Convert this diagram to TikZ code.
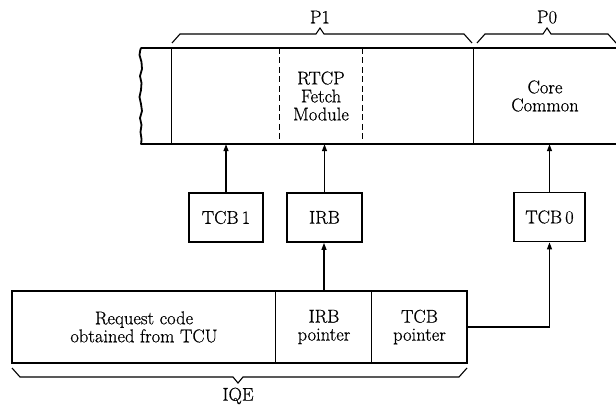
\documentclass[tikz,border=0pt]{standalone}
\usepackage{fontspec}
\setmainfont{Latin Modern Roman}[FakeBold=0.6]
\usetikzlibrary{arrows.meta}
\begin{document}
\begin{tikzpicture}[x=1pt,y=-1pt,
  every node/.style={font=\fontsize{18.5}{18}\selectfont, align=center, inner sep=0pt},
  cell/.style={minimum height=72pt},
  slot/.style={minimum height=96pt},
  block/.style={draw, line width=1.8pt, minimum height=49pt},
  frame/.style={line width=1.8pt},
  divider/.style={line width=0.9pt},
  arr/.style={line width=1.2pt, -{Triangle[length=7pt,width=5pt]}},
  bracket/.style={line width=1.1pt, line join=miter}]
\useasboundingbox (0,0) rectangle (616,406);

% memory strip: partitions P1 and P0
\node[slot, minimum width=108pt] (cellA) at (226,96) {};
\node[slot, minimum width=82pt] (fetch) at (321,96) {RTCP\\Fetch\\Module};
\node[slot, minimum width=112pt] (cellC) at (418,96) {};
\node[slot, minimum width=142pt] (core) at (545,96) {Core\\Common};
\coordinate (stripL) at (141,48);
\coordinate (stripR) at (616,48);
\draw[frame] (stripL) -- (stripR);
\draw[frame] (stripL |- cellA.south) -- (stripR |- cellA.south);
\draw[frame, line cap=round] plot[smooth, tension=0.8] coordinates {(141,48) (139.5,55) (141.5,62) (142,69) (140,76) (141.5,83) (141,90) (139.5,97) (141,104) (142,111) (140,118) (141.5,125) (140.5,132) (141.5,139) (141,144)};
\draw[divider] (cellA.north west) -- (cellA.south west);
\draw[divider, dash pattern=on 6pt off 3.5pt] (fetch.north west) -- (fetch.south west);
\draw[divider, dash pattern=on 6pt off 3.5pt] (fetch.north east) -- (fetch.south east);
\draw[divider] (core.north west) -- (core.south west);

% braces over the partitions
\draw[bracket] (172,43) -- (180,34) -- (316,34) -- (320,28) -- (324,34) -- (464,34) -- (472,43);
\draw[bracket] (477,43) -- (485,34) -- (543,34) -- (547,28) -- (551,34) -- (608,34) -- (617,44);
\node (p1) at (320,17) {P1};
\node (p0) at (547,17) {P0};

% control blocks
\node[block, minimum width=74pt] (tcb1) at (226,217.5) {TCB\,1};
\node[block, minimum width=75pt] (irb) at (324.5,217.5) {IRB};
\node[block, minimum width=71pt] (tcb0) at (549.5,217) {TCB\,0};

% queue element
\node[cell, minimum width=264pt] (req) at (144,327) {Request code\\obtained from TCU};
\node[cell, minimum width=96pt] (irbp) at (324,327) {IRB\\pointer};
\node[cell, minimum width=95pt] (tcbp) at (419.5,327) {TCB\\pointer};
\draw[frame] (req.north west) rectangle (tcbp.south east);
\draw[divider] (irbp.north west) -- (irbp.south west);
\draw[divider] (tcbp.north west) -- (tcbp.south west);
\draw[bracket] (12,368) -- (20,377) -- (233,377) -- (238,383) -- (243,377) -- (459,377) -- (467,368);
\node (iqe) at (238,396) {IQE};

% pointers
\draw[arr] (tcb1.north) -- (tcb1.north |- cellA.south);
\draw[arr] (irb.north) -- (irb.north |- fetch.south);
\draw[arr] (tcb0.north) -- (tcb0.north |- core.south);
\draw[arr] (irbp.north) -- (irbp.north |- irb.south);
\draw[arr] (tcbp.east) -| (tcb0.south);
\end{tikzpicture}
\end{document}
